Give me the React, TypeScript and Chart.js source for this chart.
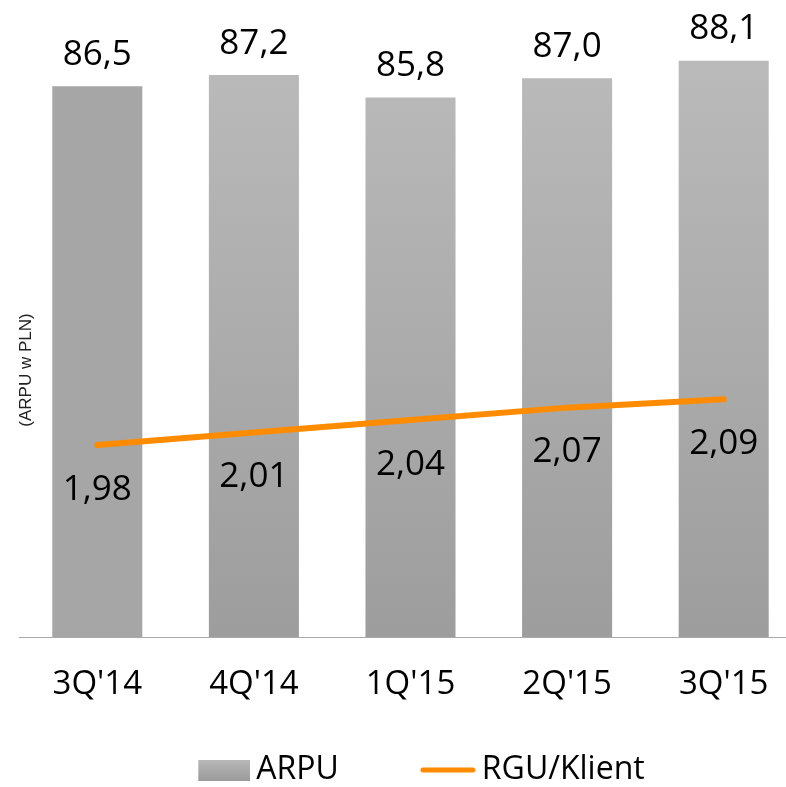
import React, { useEffect, useRef } from "react";
import { Chart, registerables } from "chart.js";

Chart.register(...registerables);

const categories = ["3Q'14", "4Q'14", "1Q'15", "2Q'15", "3Q'15"];
const arpuValues = [86.5, 87.2, 85.8, 87.0, 88.1];
const rguValues = [1.98, 2.01, 2.04, 2.07, 2.09];
const seriesNames = ["ARPU", "RGU/Klient"];
const axisTitle = "(ARPU w PLN)";

const ORANGE = "#ff8c00";
const FONT = "'Open Sans', sans-serif";

const CANVAS_W = 802;
const CANVAS_H = 796;
const LEGEND_FS = 32;
const LEGEND_PAD = 44;
const LEGEND_BOX = 83;
const IMG_W = LEGEND_BOX + LEGEND_FS - 12;
const LEGEND_H = LEGEND_FS + LEGEND_PAD + 10;
const X_AXIS_H = CANVAS_H - 637 - LEGEND_H;

function makeBoxImage(): HTMLCanvasElement {
  const c = document.createElement("canvas");
  c.width = IMG_W;
  c.height = 21;
  const g = c.getContext("2d")!;
  const grad = g.createLinearGradient(0, 0, 0, 21);
  grad.addColorStop(0, "#b9b9b9");
  grad.addColorStop(1, "#9b9b9b");
  g.fillStyle = grad;
  g.fillRect(IMG_W - 52, 0, 52, 21);
  return c;
}

function makeLineImage(): HTMLCanvasElement {
  const c = document.createElement("canvas");
  c.width = IMG_W;
  c.height = 8;
  const g = c.getContext("2d")!;
  g.strokeStyle = ORANGE;
  g.lineWidth = 5;
  g.lineCap = "round";
  g.beginPath();
  g.moveTo(IMG_W - 56 + 3, 4);
  g.lineTo(IMG_W - 3, 4);
  g.stroke();
  return c;
}

const labelsPlugin = {
  id: "valueLabels",
  afterDatasetsDraw(chart: any) {
    const ctx = chart.ctx;
    ctx.save();
    ctx.fillStyle = "#000";
    ctx.textAlign = "center";
    ctx.textBaseline = "alphabetic";
    ctx.font = `35px ${FONT}`;
    chart.data.datasets.forEach((ds: any, di: number) => {
      const meta = chart.getDatasetMeta(di);
      meta.data.forEach((el: any, i: number) => {
        const v = ds.data[i];
        if (ds.type === "bar") {
          ctx.fillText(v.toFixed(1).replace(".", ","), el.x, el.y - 21.5);
        } else {
          ctx.fillText(v.toFixed(2).replace(".", ","), el.x, el.y + 54.5);
        }
      });
    });
    ctx.save();
    ctx.translate(26, 370);
    ctx.rotate(-Math.PI / 2);
    ctx.font = `17px 'Liberation Sans', Arial, sans-serif`;
    ctx.fillStyle = "#222";
    ctx.textBaseline = "middle";
    ctx.fillText(axisTitle, 0, 0);
    ctx.restore();
    ctx.restore();
  },
};

export default function App() {
  const ref = useRef<HTMLCanvasElement>(null);
  useEffect(() => {
    if (!ref.current) return;
    const boxImg = makeBoxImage();
    const lineImg = makeLineImage();
    const chart = new Chart(ref.current, {
      type: "bar",
      data: {
        labels: categories,
        datasets: [
          {
            type: "line",
            label: seriesNames[1],
            data: rguValues,
            yAxisID: "y1",
            borderColor: ORANGE,
            borderWidth: 6,
            borderCapStyle: "round",
            pointRadius: 0,
            tension: 0,
            order: 0,
          } as any,
          {
            type: "bar",
            label: seriesNames[0],
            data: arpuValues,
            yAxisID: "y",
            barPercentage: 0.575,
            categoryPercentage: 1,
            order: 1,
            backgroundColor: (c: any) => {
              if (c.dataIndex === 0) return "#a6a6a6";
              const area = c.chart.chartArea;
              if (!area) return "#b0b0b0";
              const g = c.chart.ctx.createLinearGradient(0, area.top, 0, area.bottom);
              g.addColorStop(0, "#bdbdbd");
              g.addColorStop(1, "#9d9d9d");
              return g;
            },
          } as any,
        ],
      },
      options: {
        responsive: false,
        animation: false,
        layout: { padding: 0 },
        scales: {
          x: {
            grid: { display: false, drawTicks: false },
            border: { display: true, color: "#a9a9a9", width: 1 },
            ticks: {
              color: "#000",
              padding: 28,
              font: { family: FONT, size: 33 },
              maxRotation: 0,
            },
            afterFit: (s: any) => {
              s.height = X_AXIS_H;
            },
          },
          y: {
            display: true,
            min: 52,
            max: 91.9,
            ticks: { display: false },
            grid: { display: false, drawTicks: false },
            border: { display: false },
            afterFit: (s: any) => {
              s.width = 19;
            },
          },
          y1: { display: false, min: 1.518, max: 3.051 },
        },
        plugins: {
          tooltip: { enabled: false },
          legend: {
            position: "bottom",
            align: "center",
            labels: {
              usePointStyle: true,
              pointStyleWidth: LEGEND_BOX,
              padding: LEGEND_PAD,
              color: "#000",
              font: { family: FONT, size: LEGEND_FS },
              generateLabels: () => [
                {
                  text: seriesNames[0],
                  pointStyle: boxImg,
                  fillStyle: "transparent",
                  strokeStyle: "transparent",
                  lineWidth: 0,
                  hidden: false,
                  datasetIndex: 1,
                  fontColor: "#000",
                },
                {
                  text: seriesNames[1],
                  pointStyle: lineImg,
                  fillStyle: "transparent",
                  strokeStyle: "transparent",
                  lineWidth: 0,
                  hidden: false,
                  datasetIndex: 0,
                  fontColor: "#000",
                },
              ],
            },
          },
        },
      } as any,
      plugins: [labelsPlugin],
    });
    return () => chart.destroy();
  }, []);

  return (
    <div
      style={{
        position: "absolute",
        left: 0,
        top: 0,
        width: 786,
        height: 787,
        overflow: "hidden",
        background: "#fff",
      }}
    >
      <canvas
        ref={ref}
        width={CANVAS_W}
        height={CANVAS_H}
        style={{ display: "block", width: CANVAS_W, height: CANVAS_H }}
      />
    </div>
  );
}
